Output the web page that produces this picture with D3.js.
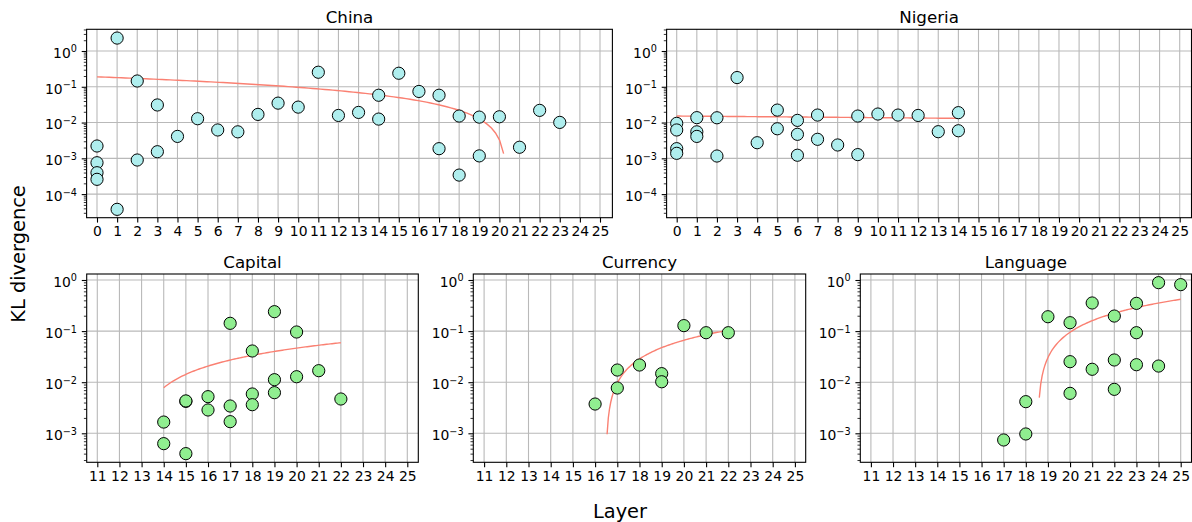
<!DOCTYPE html>
<html>
<head>
<meta charset="utf-8">
<script src="https://cdn.jsdelivr.net/npm/d3@7"></script>
<style>
  html, body { margin: 0; padding: 0; background: #ffffff; }
  svg { display: block; }
</style>
</head>
<body>
<svg id="chart" width="1192" height="522"></svg>
<script>
// ---- KL divergence per layer, one pair of arrays per probe ----
const chinaLayer = [0, 0, 0, 0, 1, 1, 2, 2, 3, 3, 4, 5, 6, 7, 8, 9, 10, 11, 12, 13, 14, 14, 15, 16, 17, 17, 18, 18, 19, 19, 20, 21, 22, 23];
const chinaKL = [0.00221, 0.000753, 0.000396, 0.000259, 2.3, 0.0000375, 0.145, 0.000897, 0.031, 0.00153, 0.0041, 0.0128, 0.0062, 0.0055, 0.0169, 0.0349, 0.027, 0.255, 0.0158, 0.0192, 0.058, 0.0125, 0.239, 0.074, 0.058, 0.00186, 0.0152, 0.00034, 0.0142, 0.00117, 0.0145, 0.00204, 0.0219, 0.0101];

const nigeriaLayer = [0, 0, 0, 0, 1, 1, 1, 2, 2, 3, 4, 5, 5, 6, 6, 6, 7, 7, 8, 9, 9, 10, 11, 12, 13, 14, 14];
const nigeriaKL = [0.0095, 0.0062, 0.00186, 0.00138, 0.0137, 0.0055, 0.0041, 0.0136, 0.00116, 0.181, 0.00273, 0.0223, 0.0067, 0.0115, 0.00469, 0.00122, 0.0162, 0.0034, 0.00236, 0.0152, 0.00127, 0.0173, 0.0162, 0.0158, 0.00555, 0.0189, 0.0059];

const capitalLayer = [14, 14, 15, 15, 15, 16, 16, 17, 17, 17, 18, 18, 18, 19, 19, 19, 20, 20, 21, 22];
const capitalKL = [0.00166, 0.000627, 0.00422, 0.0043, 0.0004, 0.00521, 0.00286, 0.142, 0.00342, 0.00169, 0.0408, 0.00588, 0.00363, 0.24, 0.0112, 0.00624, 0.096, 0.0128, 0.0168, 0.00469];

const currencyLayer = [16, 17, 17, 18, 19, 19, 20, 21, 22];
const currencyKL = [0.00374, 0.0173, 0.0077, 0.0217, 0.0147, 0.0102, 0.128, 0.093, 0.093];

const languageLayer = [17, 18, 18, 19, 20, 20, 20, 21, 21, 22, 22, 22, 23, 23, 23, 24, 24, 25];
const languageKL = [0.00074, 0.00416, 0.00097, 0.191, 0.146, 0.0252, 0.00605, 0.355, 0.0179, 0.197, 0.0272, 0.00725, 0.349, 0.093, 0.022, 0.887, 0.0207, 0.811];

// ---- linear trend of each probe: end points (layer, KL) ----
const chinaTrendLayer = [0, 20.21];
const chinaTrendKL = [0.1895, 0.00135];
const nigeriaTrendLayer = [0, 14];
const nigeriaTrendKL = [0.0152, 0.0131];
const capitalTrendLayer = [14, 22];
const capitalTrendKL = [0.0078, 0.0593];
const currencyTrendLayer = [16.54, 22];
const currencyTrendKL = [0.00096, 0.104];
const languageTrendLayer = [18.61, 25];
const languageTrendKL = [0.005, 0.419];

// ---- tick values ----
const topLayerTicks = [0, 1, 2, 3, 4, 5, 6, 7, 8, 9, 10, 11, 12, 13, 14, 15, 16, 17, 18, 19, 20, 21, 22, 23, 24, 25];
const bottomLayerTicks = [11, 12, 13, 14, 15, 16, 17, 18, 19, 20, 21, 22, 23, 24, 25];
const topKLTicks = [1e-4, 1e-3, 1e-2, 1e-1, 1];
const bottomKLTicks = [1e-3, 1e-2, 1e-1, 1];

// ---- styling ----
const FONT = "DejaVu Sans, Verdana, sans-serif";
const TICK_FONT = 13.9;
const SUP_FONT = 9.7;
const TITLE_FONT = 16.7;
const LABEL_FONT = 19.4;
const TOP_FILL = "#afeeee";
const BOTTOM_FILL = "#90ee90";
const TREND_COLOR = "#fa8072";
const GRID_COLOR = "#b9b9b9";

// Panel frames in pixels; x/y scales are pinned by two reference ticks each.
const topRow = { top: 29.3, bottom: 217.7, yRef: [1e-4, 1], yPix: [194.1, 51.0] };
const bottomRow = { top: 274.0, bottom: 462.3, yRef: [1e-3, 1], yPix: [433.3, 280.0] };

const panels = [
  { title: "China", layer: chinaLayer, kl: chinaKL, tLayer: chinaTrendLayer, tKL: chinaTrendKL,
    fill: TOP_FILL, row: topRow, left: 86.6, right: 612.4, xRef: [0, 25], xPix: [97.0, 600.0],
    xTicks: topLayerTicks, yTicks: topKLTicks },
  { title: "Nigeria", layer: nigeriaLayer, kl: nigeriaKL, tLayer: nigeriaTrendLayer, tKL: nigeriaTrendKL,
    fill: TOP_FILL, row: topRow, left: 666.6, right: 1191.5, xRef: [0, 25], xPix: [676.7, 1179.7],
    xTicks: topLayerTicks, yTicks: topKLTicks },
  { title: "Capital", layer: capitalLayer, kl: capitalKL, tLayer: capitalTrendLayer, tKL: capitalTrendKL,
    fill: BOTTOM_FILL, row: bottomRow, left: 86.7, right: 418.3, xRef: [11, 25], xPix: [97.3, 407.3],
    xTicks: bottomLayerTicks, yTicks: bottomKLTicks },
  { title: "Currency", layer: currencyLayer, kl: currencyKL, tLayer: currencyTrendLayer, tKL: currencyTrendKL,
    fill: BOTTOM_FILL, row: bottomRow, left: 473.3, right: 805.7, xRef: [11, 25], xPix: [484.1, 794.9],
    xTicks: bottomLayerTicks, yTicks: bottomKLTicks },
  { title: "Language", layer: languageLayer, kl: languageKL, tLayer: languageTrendLayer, tKL: languageTrendKL,
    fill: BOTTOM_FILL, row: bottomRow, left: 860.3, right: 1191.5, xRef: [11, 25], xPix: [870.9, 1180.7],
    xTicks: bottomLayerTicks, yTicks: bottomKLTicks }
];

const svg = d3.select("#chart");
svg.append("rect").attr("width", 1192).attr("height", 522).attr("fill", "#ffffff");

function supText(e) {
  return e < 0 ? "\u2212" + (-e) : String(e);
}

panels.forEach((p, i) => {
  const top = p.row.top, bottom = p.row.bottom;
  const x = d3.scaleLinear().domain(p.xRef).range(p.xPix);
  const y = d3.scaleLog().domain(p.row.yRef).range(p.row.yPix);

  const g = svg.append("g").attr("class", "panel");
  const clipId = "clip" + i;
  g.append("clipPath").attr("id", clipId)
    .append("rect").attr("x", p.left).attr("y", top)
    .attr("width", p.right - p.left).attr("height", bottom - top);

  // grid
  const grid = g.append("g").attr("class", "grid");
  grid.selectAll("line.gx").data(p.xTicks).join("line").attr("class", "gx")
    .attr("x1", d => x(d)).attr("x2", d => x(d))
    .attr("y1", top).attr("y2", bottom)
    .attr("stroke", GRID_COLOR).attr("stroke-width", 1.1);
  grid.selectAll("line.gy").data(p.yTicks).join("line").attr("class", "gy")
    .attr("x1", p.left).attr("x2", p.right)
    .attr("y1", d => y(d)).attr("y2", d => y(d))
    .attr("stroke", GRID_COLOR).attr("stroke-width", 1.1);

  // trend line: straight in KL space, drawn on the log axis
  const interp = d3.interpolateNumber(p.tKL[0], p.tKL[1]);
  const xInterp = d3.interpolateNumber(p.tLayer[0], p.tLayer[1]);
  const trendPts = d3.range(0, 101).map(k => [xInterp(k / 100), interp(k / 100)]);
  g.append("path")
    .datum(trendPts)
    .attr("clip-path", `url(#${clipId})`)
    .attr("fill", "none")
    .attr("stroke", TREND_COLOR)
    .attr("stroke-width", 1.4)
    .attr("d", d3.line().defined(d => d[1] > 0).x(d => x(d[0])).y(d => y(d[1])));

  // points
  const pts = p.layer.map((l, k) => ({ layer: l, kl: p.kl[k] }));
  g.append("g").attr("clip-path", `url(#${clipId})`)
    .selectAll("circle").data(pts).join("circle")
    .attr("cx", d => x(d.layer)).attr("cy", d => y(d.kl))
    .attr("r", 6.1)
    .attr("fill", p.fill)
    .attr("stroke", "#000000")
    .attr("stroke-width", 1.0);

  // x axis
  const xAxis = d3.axisBottom(x).tickValues(p.xTicks).tickSize(4.9).tickPadding(3.6).tickFormat(d3.format("d"));
  const gx = g.append("g").attr("transform", `translate(0,${bottom})`).call(xAxis);
  gx.select(".domain").remove();
  gx.selectAll("line").attr("stroke", "#000").attr("stroke-width", 1.1);
  gx.selectAll("text").attr("font-family", FONT).attr("font-size", TICK_FONT).attr("fill", "#000");
  gx.attr("font-family", FONT).attr("font-size", TICK_FONT);

  // y axis: major decades
  const yAxis = d3.axisLeft(y).tickValues(p.yTicks).tickSize(4.9).tickPadding(4.8).tickFormat(() => "");
  const gy = g.append("g").attr("transform", `translate(${p.left},0)`).call(yAxis);
  gy.select(".domain").remove();
  gy.selectAll("line").attr("stroke", "#000").attr("stroke-width", 1.1);
  gy.attr("font-family", FONT).attr("font-size", TICK_FONT);
  gy.selectAll(".tick text").each(function (d) {
    const t = d3.select(this);
    const e = Math.round(Math.log10(d));
    t.text(null).attr("dy", null).attr("y", 6.3)
      .attr("font-family", FONT).attr("font-size", TICK_FONT).attr("fill", "#000");
    t.append("tspan").text("10");
    t.append("tspan").attr("dy", -5.4).attr("font-size", SUP_FONT).text(supText(e));
  });

  // y axis: minor ticks
  const [lo, hi] = y.invert ? [y.invert(bottom), y.invert(top)] : [0, 0];
  const minors = [];
  for (let n = Math.floor(Math.log10(lo)); n <= Math.ceil(Math.log10(hi)); n++) {
    for (let k = 2; k <= 9; k++) {
      const v = k * Math.pow(10, n);
      if (v >= lo && v <= hi) minors.push(v);
    }
  }
  const yMinor = d3.axisLeft(y).tickValues(minors).tickSize(2.8).tickFormat(() => "");
  const gm = g.append("g").attr("transform", `translate(${p.left},0)`).call(yMinor);
  gm.select(".domain").remove();
  gm.selectAll("line").attr("stroke", "#000").attr("stroke-width", 0.8);

  // frame
  g.append("rect")
    .attr("x", p.left).attr("y", top)
    .attr("width", p.right - p.left).attr("height", bottom - top)
    .attr("fill", "none").attr("stroke", "#000").attr("stroke-width", 1.1);

  // title
  g.append("text")
    .attr("x", (p.left + p.right) / 2)
    .attr("y", top - (p.row === topRow ? 6.6 : 5.8))
    .attr("text-anchor", "middle")
    .attr("font-family", FONT).attr("font-size", TITLE_FONT).attr("fill", "#000")
    .text(p.title);
});

// shared axis labels
svg.append("text")
  .attr("x", 620).attr("y", 518)
  .attr("text-anchor", "middle")
  .attr("font-family", FONT).attr("font-size", LABEL_FONT).attr("fill", "#000")
  .text("Layer");

svg.append("text")
  .attr("transform", "translate(25,254) rotate(-90)")
  .attr("text-anchor", "middle")
  .attr("font-family", FONT).attr("font-size", LABEL_FONT).attr("fill", "#000")
  .text("KL divergence");
</script>
</body>
</html>
